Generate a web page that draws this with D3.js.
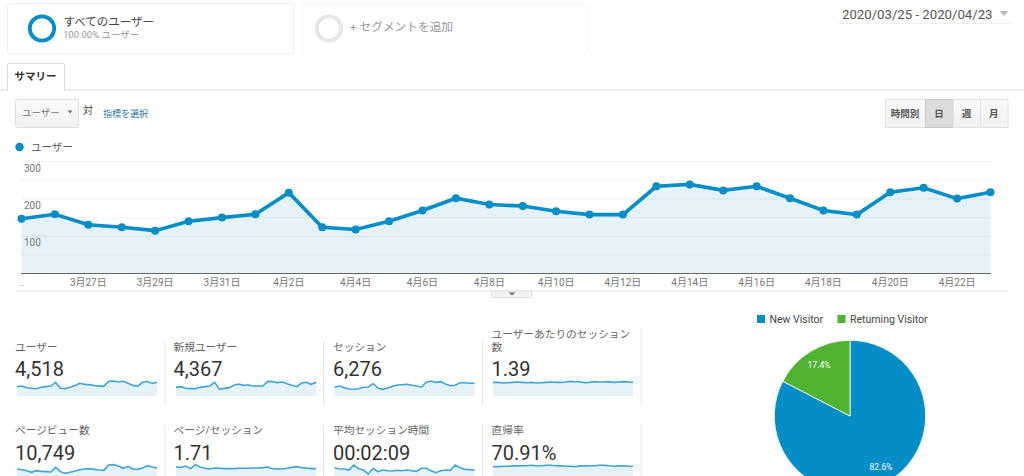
<!DOCTYPE html>
<html>
<head>
<meta charset="utf-8">
<script src="https://d3js.org/d3.v7.min.js"></script>
<style>
html, body { margin: 0; padding: 0; background: #fff; overflow: hidden; }
svg { display: block; }
text { font-family: Roboto, "Noto Sans CJK JP", sans-serif; }
</style>
</head>
<body>
<svg id="chart" width="1024" height="476"></svg>
<script>
var dates = ["3月25日","3月26日","3月27日","3月28日","3月29日","3月30日","3月31日","4月1日","4月2日","4月3日","4月4日","4月5日","4月6日","4月7日","4月8日","4月9日","4月10日","4月11日","4月12日","4月13日","4月14日","4月15日","4月16日","4月17日","4月18日","4月19日","4月20日","4月21日","4月22日","4月23日"];
var users = [147,159,131,124,115,140,150,159,217,124,118,140,169,202,185,181,167,158,158,234,239,223,234,202,169,158,218,230,201,218];
var newUsers = [130,140,115,110,110,130,140,150,205,100,115,125,160,180,160,165,150,150,150,220,215,200,210,185,160,140,195,205,175,205];
var sessions = [191,220,183,154,147,161,191,198,271,176,147,176,213,242,249,257,235,220,198,301,330,301,315,264,227,235,293,293,279,279];
var sessionsPerUser = [1.41,1.41,1.34,1.37,1.41,1.44,1.41,1.37,1.41,1.34,1.37,1.41,1.44,1.41,1.41,1.44,1.51,1.48,1.48,1.37,1.41,1.48,1.44,1.44,1.48,1.41,1.44,1.48,1.44,1.41];
var pageViews = [378,354,318,258,318,294,282,270,438,282,222,258,306,354,378,390,366,342,330,522,534,486,402,474,378,366,414,498,450,414];
var pagesPerSession = [1.83,1.78,1.98,1.59,2.18,1.83,1.64,1.54,1.69,1.64,1.59,1.59,1.59,1.64,1.64,1.64,1.69,1.69,1.74,1.83,1.59,1.54,1.54,1.64,1.78,1.88,1.74,1.69,1.59,1.59];
var sessionSeconds = [156,147,143,129,197,147,129,75,152,106,129,120,116,125,120,129,120,111,152,152,120,93,120,129,125,197,161,138,134,129];
var bounceRate = [65,65,67,67,69,69,70,70,72,70,70,72,72,70,69,67,67,65,69,69,70,70,72,72,70,67,69,70,67,67];

var kpiLabels = [["ユーザー"],["新規ユーザー"],["セッション"],["ユーザーあたりのセッション","数"],["ページビュー数"],["ページ/セッション"],["平均セッション時間"],["直帰率"]];
var kpiValues = ["4,518","4,367","6,276","1.39","10,749","1.71","00:02:09","70.91%"];
var kpiSeries = [users,newUsers,sessions,sessionsPerUser,pageViews,pagesPerSession,sessionSeconds,bounceRate];
var kpiTops = [239,225,330,1.55,540,2.2,204,76];

var yTicks = [100,200,300];
var yMinorTicks = [50,150,250];
var pieLabels = ["New Visitor","Returning Visitor"];
var pieValues = [82.6,17.4];
var intervalButtons = ["時間別","日","週","月"];

var blue = "#058dc7", green = "#50b432";
var svg = d3.select("#chart");

function label(parent, x, y, str, size, color, anchor, weight) {
	return parent.append("text")
		.attr("x", x).attr("y", y)
		.attr("font-size", size)
		.attr("fill", color)
		.attr("text-anchor", anchor || "start")
		.attr("font-weight", weight || 400)
		.text(str);
}

var defs = svg.append("defs");
var grad = defs.append("linearGradient").attr("id", "btn").attr("x1", 0).attr("x2", 0).attr("y1", 0).attr("y2", 1);
grad.append("stop").attr("offset", "0%").attr("stop-color", "#fafafa");
grad.append("stop").attr("offset", "100%").attr("stop-color", "#f1f1f1");

// segment boxes
svg.append("rect").attr("x", 7.5).attr("y", 3.5).attr("width", 286).attr("height", 50.5).attr("rx", 3)
	.attr("fill", "#fff").attr("stroke", "#eee");
svg.append("circle").attr("cx", 42).attr("cy", 28.5).attr("r", 12.2)
	.attr("fill", "none").attr("stroke", blue).attr("stroke-width", 3.8);
label(svg, 63.5, 26, "すべてのユーザー", 11.5, "#444");
label(svg, 63, 38, "100.00% ユーザー", 9.5, "#999");

svg.append("rect").attr("x", 302).attr("y", 3.5).attr("width", 286).attr("height", 50.5).attr("rx", 3)
	.attr("fill", "#fff").attr("stroke", "#eee").attr("stroke-dasharray", "2,2");
svg.append("circle").attr("cx", 329).attr("cy", 28.5).attr("r", 12.2)
	.attr("fill", "none").attr("stroke", "#e6e6e6").attr("stroke-width", 3.8);
label(svg, 350, 30.5, "+ セグメントを追加", 11.7, "#999");

// date range
label(svg, 842, 18.5, "2020/03/25 - 2020/04/23", 13.2, "#555");
svg.append("line").attr("x1", 839).attr("x2", 1011).attr("y1", 23.5).attr("y2", 23.5).attr("stroke", "#eee");
svg.append("path").attr("d", "M999.5,11L1008.5,11L1004,16Z").attr("fill", "#bbb");

// tab
svg.append("line").attr("x1", 0).attr("x2", 1024).attr("y1", 90).attr("y2", 90).attr("stroke", "#e6e6e6").attr("stroke-width", 1.5);
svg.append("path").attr("d", "M7.5,90.5L7.5,65Q7.5,63.5 9,63.5L63,63.5Q64.5,63.5 64.5,65L64.5,90.5")
	.attr("fill", "#fff").attr("stroke", "#ddd");
svg.append("line").attr("x1", 8).attr("x2", 64).attr("y1", 90).attr("y2", 90).attr("stroke", "#fff").attr("stroke-width", 1.5);
label(svg, 14.5, 80, "サマリー", 10.5, "#333", "start", 700);

// metric selector
svg.append("rect").attr("x", 15.5).attr("y", 99.5).attr("width", 63).attr("height", 28).attr("rx", 2)
	.attr("fill", "url(#btn)").attr("stroke", "#ddd");
label(svg, 22, 116, "ユーザー", 9.5, "#777");
svg.append("path").attr("d", "M67.5,110.5L72.5,110.5L70,113.5Z").attr("fill", "#777");
label(svg, 83, 113.5, "対", 10, "#444");
label(svg, 103, 116.5, "指標を選択", 9, "#2b74a8");

// interval buttons
var btnEdges = [885, 925, 953, 980, 1007.5];
intervalButtons.forEach(function(d, i) {
	svg.append("rect").attr("x", btnEdges[i] + 0.5).attr("y", 99.5)
		.attr("width", btnEdges[i + 1] - btnEdges[i]).attr("height", 28)
		.attr("fill", i == 1 ? "#dcdcdc" : "url(#btn)")
		.attr("stroke", i == 1 ? "#c8c8c8" : "#e2e2e2");
	label(svg, (btnEdges[i] + btnEdges[i + 1]) / 2, 117, d, 9.5, "#555", "middle", 700);
});

// legend of the main chart
svg.append("circle").attr("cx", 19.5).attr("cy", 147).attr("r", 4.2).attr("fill", blue);
label(svg, 31, 151, "ユーザー", 10.5, "#555");

// main chart
var x = d3.scaleLinear().domain([0, dates.length - 1]).range([21.5, 990.5]);
var y = d3.scaleLinear().domain([0, 300]).range([273.5, 161.7]);

svg.selectAll(".minor").data(yMinorTicks).enter().append("line").attr("class", "minor")
	.attr("x1", 21).attr("x2", 992).attr("y1", y).attr("y2", y).attr("stroke", "#f4f4f4");
svg.selectAll(".major").data(yTicks).enter().append("line").attr("class", "major")
	.attr("x1", 21).attr("x2", 992).attr("y1", y).attr("y2", y).attr("stroke", "#eeeeee");

svg.append("path").datum(users)
	.attr("fill", blue).attr("fill-opacity", 0.105)
	.attr("d", d3.area().x(function(d, i) { return x(i); }).y0(y(0)).y1(function(d) { return y(d); }));
svg.append("path").datum(users)
	.attr("fill", "none").attr("stroke", blue).attr("stroke-width", 3.6)
	.attr("d", d3.line().x(function(d, i) { return x(i); }).y(function(d) { return y(d); }));
svg.selectAll(".pt").data(users).enter().append("circle").attr("class", "pt")
	.attr("cx", function(d, i) { return x(i); })
	.attr("cy", function(d) { return y(d); })
	.attr("r", 4).attr("fill", blue);

svg.append("line").attr("x1", 21).attr("x2", 991).attr("y1", y(0)).attr("y2", y(0)).attr("stroke", "#666").attr("stroke-width", 1);

yTicks.forEach(function(d) {
	label(svg, 24, y(d) + 10, d, 10, "#777");
});
dates.forEach(function(d, i) {
	if (i > 0 && i % 2 == 0) label(svg, x(i), 286, d, 10, "#777", "middle");
});
label(svg, 21.5, 286, "…", 9.5, "#aaa", "middle");

svg.append("line").attr("x1", 16).attr("x2", 1008).attr("y1", 291).attr("y2", 291).attr("stroke", "#eee").attr("stroke-width", 1.5);
svg.append("rect").attr("x", 491.5).attr("y", 291).attr("width", 40).attr("height", 6.5).attr("rx", 1)
	.attr("fill", "#f3f3f3").attr("stroke", "#ddd");
svg.append("path").attr("d", "M508.5,292.5L515.5,292.5L512,295.5Z").attr("fill", "#777");

// KPI cells
var colX = [15, 173.5, 333, 491.5];
var sparkX = [17, 176, 334.5, 493];
var rowOffset = 83.5;

kpiValues.forEach(function(v, i) {
	var col = i % 4, dy = i < 4 ? 0 : rowOffset;
	var lines = kpiLabels[i];
	lines.forEach(function(t, j) {
		label(svg, colX[col], (lines.length > 1 ? 338 + j * 13 : 350.5) + dy, t, 10.7, "#666");
	});
	label(svg, colX[col], 376 + dy, v, 20, "#333");

	var sx = d3.scaleLinear().domain([0, dates.length - 1]).range([sparkX[col], sparkX[col] + 140]);
	var sy = d3.scaleLinear().domain([0, kpiTops[i]]).range([396 + dy, 381 + dy]);
	svg.append("path").datum(kpiSeries[i])
		.attr("fill", blue).attr("fill-opacity", 0.105)
		.attr("d", d3.area().x(function(d, k) { return sx(k); }).y0(sy(0)).y1(function(d) { return sy(d); }));
	svg.append("path").datum(kpiSeries[i])
		.attr("fill", "none").attr("stroke", "#3da5d9").attr("stroke-width", 1.6)
		.attr("d", d3.line().x(function(d, k) { return sx(k); }).y(function(d) { return sy(d); }));
});

var dividers = [165, 323.5, 482.5, 641];
dividers.forEach(function(d, i) {
	svg.append("line").attr("x1", d).attr("x2", d).attr("y1", i == 3 ? 329 : 341).attr("y2", 404).attr("stroke", "#e6e6e6");
	svg.append("line").attr("x1", d).attr("x2", d).attr("y1", 425).attr("y2", 476).attr("stroke", "#e6e6e6");
});

// pie
var pieColors = d3.scaleOrdinal().domain(pieLabels).range([blue, green]);
var pie = d3.pie().sort(null)(pieValues);
var arc = d3.arc().innerRadius(0).outerRadius(75.7);
var pieG = svg.append("g").attr("transform", "translate(850,416)");
pieG.selectAll("path").data(pie).enter().append("path")
	.attr("d", arc)
	.attr("fill", function(d, i) { return pieColors(pieLabels[i]); })
	.attr("stroke", "#fff").attr("stroke-width", 0.8);
pieG.selectAll(".pct").data(pie).enter().append("text").attr("class", "pct")
	.attr("transform", function(d, i) {
		var c = i == 0 ? [31, 54] : [-31, -48];
		return "translate(" + c + ")";
	})
	.attr("text-anchor", "middle").attr("font-size", 8.5).attr("fill", "#fff")
	.text(function(d) { return d.value.toFixed(1) + "%"; });

var legendX = [757, 837.5];
pieLabels.forEach(function(d, i) {
	svg.append("rect").attr("x", legendX[i]).attr("y", 315).attr("width", 8).attr("height", 8).attr("fill", pieColors(d));
	label(svg, legendX[i] + 12.5, 322.5, d, 10.5, "#444");
});
</script>
</body>
</html>
